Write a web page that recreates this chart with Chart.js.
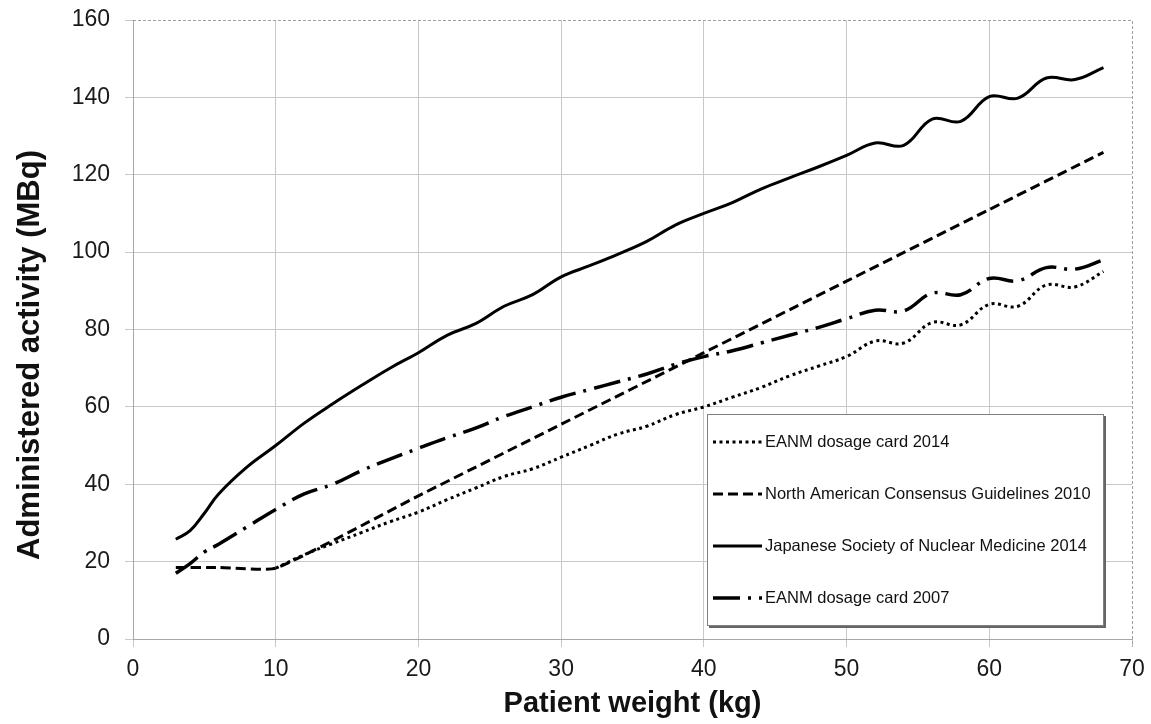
<!DOCTYPE html>
<html>
<head>
<meta charset="utf-8">
<script src="https://cdn.jsdelivr.net/npm/chart.js@4.4.1/dist/chart.umd.min.js"></script>
<style>
  html, body { margin: 0; padding: 0; background: #fff; }
</style>
</head>
<body>
<canvas id="dose-chart" width="1151" height="724"></canvas>
<script>
// series data (x = patient weight kg, y = MBq)
const seriesLabels = [
  "EANM dosage card 2014",
  "North American Consensus Guidelines 2010",
  "Japanese Society of Nuclear Medicine 2014",
  "EANM dosage card 2007"
];

const weightsMain = [3, 4, 5, 6, 8, 10, 12, 14, 16, 18, 20, 22, 24, 26, 28, 30, 32, 34,
  36, 38, 40, 42, 44, 46, 48, 50, 52, 54, 56, 58, 60, 62, 64, 66, 68];
const weights2014 = [10, 12, 14, 16, 18, 20, 22, 24, 26, 28, 30, 32, 34, 36, 38, 40, 42,
  44, 46, 48, 50, 52, 54, 56, 58, 60, 62, 64, 66, 68];
const weightsNA = [3, 6, 10, 20, 30, 40, 50, 60, 68];

const eanm2014 = [18.3, 21.8, 24.7, 27.5, 30.3, 32.8, 36, 39, 42, 44, 47, 50, 53, 55, 58,
  60, 62.5, 65, 68, 70.5, 73, 77, 76.5, 81.8, 81.2, 86.5, 86, 91.5, 91, 95];
const naGuidelines = [18.5, 18.5, 18.3, 37, 55.5, 74, 92.5, 111, 125.8];
const jsnm2014 = [25.8, 28, 32.5, 37.5, 44.5, 50, 55.8, 60.8, 65.5, 70, 74, 78.5, 81.5,
  86, 89, 93.6, 96.5, 99.5, 102.8, 107, 110, 112.8, 116.3, 119.2, 122, 125, 128.2, 127.6,
  134.4, 133.8, 140.2, 139.8, 145, 144.6, 147.7];
const eanm2007 = [17, 19.5, 22.5, 24.5, 29, 33.5, 37.5, 40, 43.5, 46.5, 49.3, 52, 54.5,
  57.5, 60, 62.5, 64.5, 66.5, 68.5, 71, 73, 74.5, 76.5, 78.5, 80.5, 82.8, 85, 84.8, 89.4,
  89, 93.2, 92.6, 96, 95.6, 98];

const xTitle = "Patient weight (kg)";
const yTitle = "Administered activity (MBq)";

function toPoints(xs, ys) {
  return xs.map((x, i) => ({ x: x, y: ys[i] }));
}

const FONT = "Liberation Sans, Arial, Helvetica, sans-serif";
const GRID = "#c8c8c8";

// axis titles, dashed frame on top/right, legend box inside the plot
const extrasPlugin = {
  id: "extras",
  afterDraw(chart) {
    const ctx = chart.ctx;
    const a = chart.chartArea;
    ctx.save();

    // dashed frame
    ctx.strokeStyle = "#a0a0a0";
    ctx.lineWidth = 1;
    ctx.setLineDash([3, 2]);
    ctx.beginPath();
    ctx.moveTo(a.left, a.top + 0.5);
    ctx.lineTo(a.right + 0.5, a.top + 0.5);
    ctx.lineTo(a.right + 0.5, a.bottom + 8);
    ctx.stroke();
    ctx.setLineDash([]);

    // titles
    ctx.fillStyle = "#111";
    ctx.font = "bold 29px " + FONT;
    ctx.textAlign = "center";
    ctx.textBaseline = "middle";
    ctx.fillText(xTitle, (a.left + a.right) / 2, 704);
    ctx.save();
    ctx.translate(30, 355);
    ctx.rotate(-Math.PI / 2);
    ctx.font = "bold 31px " + FONT;
    ctx.fillText(yTitle, 0, 0);
    ctx.restore();

    // legend
    const bx = 707, by = 414, bw = 397, bh = 212;
    ctx.fillStyle = "#666";
    ctx.fillRect(bx + 2, by + 2, bw, bh);
    ctx.fillStyle = "#fff";
    ctx.fillRect(bx, by, bw, bh);
    ctx.strokeStyle = "#808080";
    ctx.lineWidth = 1;
    ctx.strokeRect(bx + 0.5, by + 0.5, bw - 1, bh - 1);

    ctx.font = "16.5px " + FONT;
    ctx.textAlign = "left";
    ctx.textBaseline = "middle";
    chart.data.datasets.forEach((ds, i) => {
      const y = 442 + i * 52;
      ctx.strokeStyle = ds.borderColor;
      ctx.lineWidth = ds.borderWidth;
      ctx.setLineDash(ds.borderDash || []);
      ctx.beginPath();
      ctx.moveTo(713, y);
      ctx.lineTo(762, y);
      ctx.stroke();
      ctx.setLineDash([]);
      ctx.fillStyle = "#111";
      ctx.fillText(ds.label, 765, y);
    });
    ctx.restore();
  }
};

new Chart("dose-chart", {
  type: "line",
  data: {
    datasets: [
      {
        label: seriesLabels[0],
        data: toPoints(weights2014, eanm2014),
        borderColor: "#000",
        borderWidth: 3,
        borderDash: [3, 3.5],
        tension: 0.4
      },
      {
        label: seriesLabels[1],
        data: toPoints(weightsNA, naGuidelines),
        borderColor: "#000",
        borderWidth: 3,
        borderDash: [10, 5],
        tension: 0.15
      },
      {
        label: seriesLabels[2],
        data: toPoints(weightsMain, jsnm2014),
        borderColor: "#000",
        borderWidth: 3,
        tension: 0.4
      },
      {
        label: seriesLabels[3],
        data: toPoints(weightsMain, eanm2007),
        borderColor: "#000",
        borderWidth: 3.5,
        borderDash: [27, 8, 3, 8],
        tension: 0.4
      }
    ]
  },
  options: {
    responsive: false,
    animation: false,
    elements: { point: { radius: 0 } },
    layout: { padding: { top: 20, right: 19, left: 0, bottom: 0 } },
    plugins: {
      legend: { display: false },
      tooltip: { enabled: false }
    },
    scales: {
      x: {
        type: "linear",
        min: 0,
        max: 70,
        ticks: {
          stepSize: 10,
          padding: 9,
          color: "#1a1a1a",
          font: { family: FONT, size: 23 }
        },
        grid: {
          color: (c) => (c.tick && c.tick.value === 70 ? "rgba(0,0,0,0)" : GRID),
          tickColor: GRID,
          tickLength: 8
        },
        border: { color: "#a8a8a8" },
        afterFit: (scale) => {
          scale.height = 85;
          scale.paddingLeft = 0;
          scale.paddingRight = 0;
        }
      },
      y: {
        min: 0,
        max: 160,
        ticks: {
          stepSize: 20,
          padding: 15,
          color: "#1a1a1a",
          font: { family: FONT, size: 23 }
        },
        grid: {
          color: (c) => (c.tick && c.tick.value === 160 ? "rgba(0,0,0,0)" : GRID),
          tickColor: GRID,
          tickLength: 8
        },
        border: { color: "#a8a8a8" },
        afterFit: (scale) => {
          scale.width = 133;
          scale.paddingTop = 0;
          scale.paddingBottom = 0;
        }
      }
    }
  },
  plugins: [extrasPlugin]
});
</script>
</body>
</html>
